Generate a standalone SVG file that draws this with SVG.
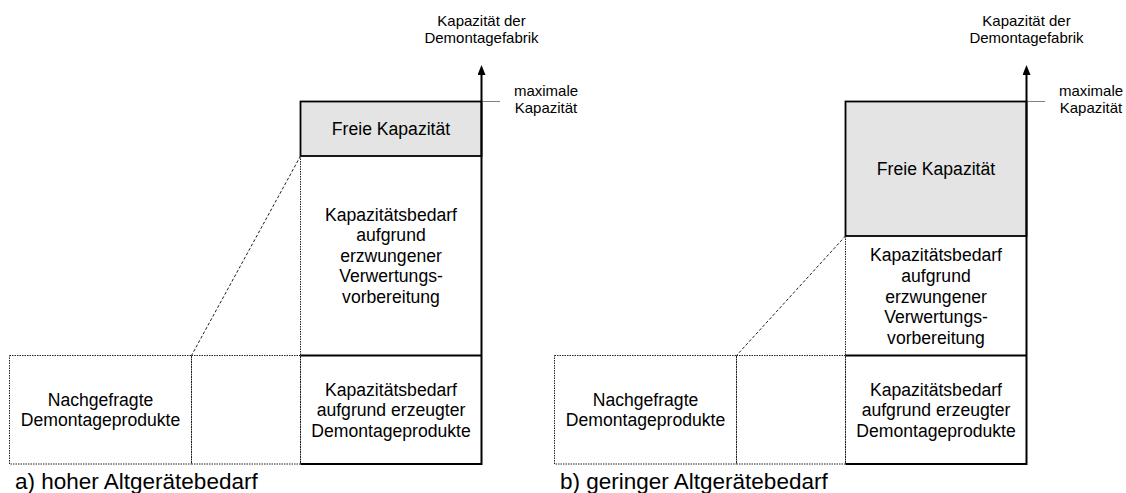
<svg xmlns="http://www.w3.org/2000/svg" width="1126" height="493" viewBox="0 0 1126 493">
<style>
text{font-family:"Liberation Sans",Arial,sans-serif;fill:#000;}
.bx{font-size:17.6px;text-anchor:middle;}
.lb{font-size:15px;text-anchor:middle;}
.cap{font-size:22.5px;}
.solid{fill:none;stroke:#000;stroke-width:1.8;}
.free{fill:#e4e4e4;stroke:#000;stroke-width:1.8;}
.dot{fill:none;stroke:#222;stroke-width:1;stroke-dasharray:1.5 1;}
.dash{fill:none;stroke:#222;stroke-width:1;stroke-dasharray:3 2;}
.axis{fill:none;stroke:#000;stroke-width:2;}
.max{stroke:#808080;stroke-width:1;}
</style>
<defs>
<marker id="ah" viewBox="0 0 10 8" refX="0" refY="4" markerWidth="10" markerHeight="8" markerUnits="userSpaceOnUse" orient="auto">
<path d="M0,0 L10,4 L0,8 Z" fill="#000"/>
</marker>
</defs>

<!-- Diagram a -->
<g id="a-nachgefragt">
<rect class="dot" x="9.5" y="355.5" width="182" height="108.5"/>
<text class="bx" x="100.5" y="405.5">Nachgefragte</text>
<text class="bx" x="100.5" y="426">Demontageprodukte</text>
</g>
<g id="a-leer">
<rect class="dot" x="191.5" y="355.5" width="109" height="108.5"/>
</g>
<g id="a-mid">
<line class="dot" x1="300.5" y1="156" x2="300.5" y2="464"/>
<text class="bx" x="391" y="220.5">Kapazitätsbedarf</text>
<text class="bx" x="391" y="241.1">aufgrund</text>
<text class="bx" x="391" y="261.7">erzwungener</text>
<text class="bx" x="391" y="282.3">Verwertungs-</text>
<text class="bx" x="391" y="302.9">vorbereitung</text>
</g>
<g id="a-bottom">
<line class="solid" x1="300.5" y1="355.5" x2="481.5" y2="355.5"/>
<line class="solid" x1="300.5" y1="464" x2="481.5" y2="464"/>
<text class="bx" x="391" y="395.5">Kapazitätsbedarf</text>
<text class="bx" x="391" y="416">aufgrund erzeugter</text>
<text class="bx" x="391" y="436.5">Demontageprodukte</text>
</g>
<g id="a-freie">
<rect class="free" x="300.5" y="101.5" width="181" height="54.5"/>
<text class="bx" x="391" y="135">Freie Kapazität</text>
</g>
<g id="a-axis">
<line class="max" x1="481.5" y1="101.5" x2="500" y2="101.5"/>
<line class="axis" x1="481.5" y1="464.9" x2="481.5" y2="75" marker-end="url(#ah)"/>
<text class="lb" x="481.5" y="26">Kapazität der</text>
<text class="lb" x="481.5" y="42.5">Demontagefabrik</text>
<text class="lb" x="546" y="96">maximale</text>
<text class="lb" x="546" y="112.5">Kapazität</text>
</g>
<text id="a-caption" class="cap" x="15" y="489">a) hoher Altgerätebedarf</text>

<!-- Diagram b -->
<g id="b-nachgefragt">
<rect class="dot" x="554.5" y="355.5" width="182" height="108.5"/>
<text class="bx" x="645.5" y="405.5">Nachgefragte</text>
<text class="bx" x="645.5" y="426">Demontageprodukte</text>
</g>
<g id="b-leer">
<rect class="dot" x="736.5" y="355.5" width="109" height="108.5"/>
</g>
<g id="b-mid">
<line class="dot" x1="845.5" y1="236" x2="845.5" y2="464"/>
<text class="bx" x="936" y="261">Kapazitätsbedarf</text>
<text class="bx" x="936" y="281.8">aufgrund</text>
<text class="bx" x="936" y="302.6">erzwungener</text>
<text class="bx" x="936" y="323.4">Verwertungs-</text>
<text class="bx" x="936" y="344.2">vorbereitung</text>
</g>
<g id="b-bottom">
<line class="solid" x1="845.5" y1="355.5" x2="1026.5" y2="355.5"/>
<line class="solid" x1="845.5" y1="464" x2="1026.5" y2="464"/>
<text class="bx" x="936" y="395.5">Kapazitätsbedarf</text>
<text class="bx" x="936" y="416">aufgrund erzeugter</text>
<text class="bx" x="936" y="436.5">Demontageprodukte</text>
</g>
<g id="b-freie">
<rect class="free" x="845.5" y="101.5" width="181" height="134.5"/>
<text class="bx" x="936" y="175">Freie Kapazität</text>
</g>
<g id="b-axis">
<line class="max" x1="1026.5" y1="101.5" x2="1045" y2="101.5"/>
<line class="axis" x1="1026.5" y1="464.9" x2="1026.5" y2="75" marker-end="url(#ah)"/>
<text class="lb" x="1026.5" y="26">Kapazität der</text>
<text class="lb" x="1026.5" y="42.5">Demontagefabrik</text>
<text class="lb" x="1091" y="96">maximale</text>
<text class="lb" x="1091" y="112.5">Kapazität</text>
</g>
<text id="b-caption" class="cap" x="560" y="489">b) geringer Altgerätebedarf</text>

<g id="connectors">
<line class="dash" x1="300.5" y1="156" x2="191.5" y2="355.5"/>
<line class="dash" x1="845.5" y1="236" x2="736.5" y2="355.5"/>
</g>
</svg>
